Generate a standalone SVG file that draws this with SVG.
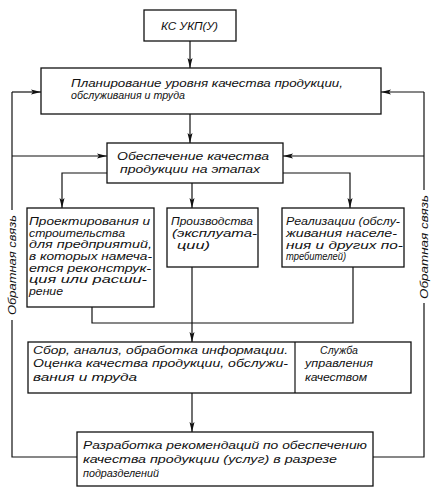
<svg xmlns="http://www.w3.org/2000/svg" width="439" height="500" viewBox="0 0 439 500">
<defs>
<marker id="ah" viewBox="0 0 10 6" refX="10" refY="3" markerWidth="10" markerHeight="6" markerUnits="userSpaceOnUse" orient="auto">
<path d="M0,0.5 L10,3 L0,5.5 L2,3 z" fill="#111"/>
</marker>
<style>
.box{fill:#fff;stroke:#111;stroke-width:1.3}
.ln{fill:none;stroke:#111;stroke-width:1.2}
.ar{fill:none;stroke:#111;stroke-width:1.2;marker-end:url(#ah)}
text{font-family:"Liberation Sans","DejaVu Sans",sans-serif;font-style:italic;font-size:11px;fill:#111}
.s{font-size:10.5px}
</style>
</defs>
<rect width="439" height="500" fill="#fff"/>
<g id="connectors">
<path class="ar" d="M190,41 V68"/>
<path class="ar" d="M190,114 V143"/>
<path class="ar" d="M107,173 H62 V208"/>
<path class="ar" d="M192,183 V208"/>
<path class="ar" d="M283,173 H350 V208"/>
<path class="ln" d="M92,307 V323 H353 V267"/>
<path class="ar" d="M192,267 V342"/>
<path class="ar" d="M192,393 V432"/>
<path class="ln" d="M77,457 H12 V320"/>
<path class="ln" d="M12,210 V92"/>
<path class="ar" d="M12,92 H41"/>
<path class="ar" d="M12,156 H107"/>
<path class="ln" d="M373,457 H424 V303"/>
<path class="ln" d="M424,190 V92"/>
<path class="ar" d="M424,92 H381"/>
<path class="ar" d="M424,156 H283"/>
</g>
<g id="n1"><rect class="box" x="144" y="10" width="92" height="31"/>
<text x="161" y="30" textLength="57" lengthAdjust="spacingAndGlyphs">КС УКП(У)</text></g>
<g id="n2"><rect class="box" x="41" y="68" width="340" height="46"/>
<text x="71" y="87" textLength="272" lengthAdjust="spacingAndGlyphs">Планирование уровня качества продукции,</text>
<text x="71" y="99" textLength="114" lengthAdjust="spacingAndGlyphs">обслуживания и труда</text></g>
<g id="n3"><rect class="box" x="107" y="143" width="176" height="40"/>
<text x="117" y="160" textLength="152" lengthAdjust="spacingAndGlyphs">Обеспечение качества</text>
<text x="120" y="173" textLength="140" lengthAdjust="spacingAndGlyphs">продукции на этапах</text></g>
<g id="n4"><rect class="box" x="27" y="208" width="127" height="99"/>
<text class="s" x="29" y="225" textLength="121" lengthAdjust="spacingAndGlyphs">Проектирования и</text>
<text class="s" x="29" y="236.7" textLength="96" lengthAdjust="spacingAndGlyphs">строительства</text>
<text class="s" x="29" y="248.3" textLength="123" lengthAdjust="spacingAndGlyphs">для предприятий,</text>
<text class="s" x="29" y="260" textLength="123" lengthAdjust="spacingAndGlyphs">в которых намеча-</text>
<text class="s" x="29" y="271.7" textLength="122" lengthAdjust="spacingAndGlyphs">ется реконструк-</text>
<text class="s" x="29" y="283.3" textLength="118" lengthAdjust="spacingAndGlyphs">ция или расши-</text>
<text class="s" x="29" y="295" textLength="34" lengthAdjust="spacingAndGlyphs">рение</text></g>
<g id="n5"><rect class="box" x="167" y="208" width="91" height="59"/>
<text class="s" x="171" y="225" textLength="82" lengthAdjust="spacingAndGlyphs">Производства</text>
<text class="s" x="172" y="237" textLength="85" lengthAdjust="spacingAndGlyphs">(эксплуата-</text>
<text class="s" x="177" y="248.5" textLength="33" lengthAdjust="spacingAndGlyphs">ции)</text></g>
<g id="n6"><rect class="box" x="282" y="208" width="122" height="59"/>
<text class="s" x="286" y="225" textLength="114" lengthAdjust="spacingAndGlyphs">Реализации (обслу-</text>
<text class="s" x="286" y="237" textLength="111" lengthAdjust="spacingAndGlyphs">живания населе-</text>
<text class="s" x="286" y="248.5" textLength="117" lengthAdjust="spacingAndGlyphs">ния и других по-</text>
<text class="s" x="286" y="260" textLength="60" lengthAdjust="spacingAndGlyphs">требителей)</text></g>
<g id="n7"><rect class="box" x="28" y="342" width="383" height="51"/>
<line class="ln" x1="295" y1="342" x2="295" y2="393"/>
<text x="33" y="354" textLength="255" lengthAdjust="spacingAndGlyphs">Сбор, анализ, обработка информации.</text>
<text x="33" y="367" textLength="255" lengthAdjust="spacingAndGlyphs">Оценка качества продукции, обслужи-</text>
<text x="33" y="381" textLength="104" lengthAdjust="spacingAndGlyphs">вания и труда</text>
<text x="320" y="354" textLength="38" lengthAdjust="spacingAndGlyphs">Служба</text>
<text x="305" y="367" textLength="68" lengthAdjust="spacingAndGlyphs">управления</text>
<text x="305" y="381" textLength="62" lengthAdjust="spacingAndGlyphs">качеством</text></g>
<g id="n8"><rect class="box" x="77" y="432" width="296" height="54"/>
<text x="83" y="449" textLength="284" lengthAdjust="spacingAndGlyphs">Разработка рекомендаций по обеспечению</text>
<text x="83" y="463" textLength="254" lengthAdjust="spacingAndGlyphs">качества продукции (услуг) в разрезе</text>
<text x="83" y="477" textLength="76" lengthAdjust="spacingAndGlyphs">подразделений</text></g>
<g id="labels">
<text transform="translate(16,265) rotate(-90)" text-anchor="middle" textLength="100" lengthAdjust="spacingAndGlyphs">Обратная связь</text>
<text transform="translate(428,247) rotate(-90)" text-anchor="middle" textLength="104" lengthAdjust="spacingAndGlyphs">Обратная связь</text>
</g>
</svg>
